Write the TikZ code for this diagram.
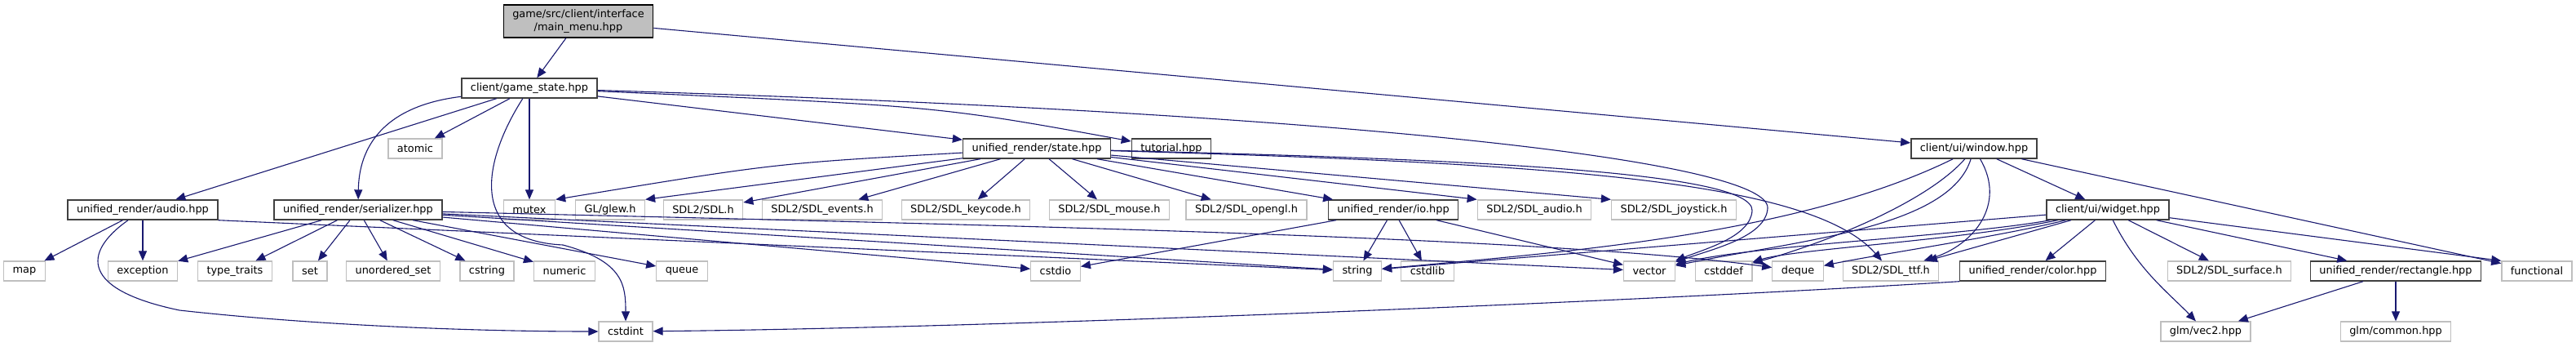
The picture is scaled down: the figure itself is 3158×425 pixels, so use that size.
\documentclass[tikz,border=0pt]{standalone}
\usepackage{fontspec}
\setmainfont{DejaVu Sans}
\usetikzlibrary{arrows.meta}
\definecolor{edgeblue}{HTML}{191970}
\definecolor{rootgrey}{HTML}{BFBFBF}
\definecolor{rimgrey}{HTML}{404040}
\definecolor{sysgrey}{HTML}{BFBFBF}

\begin{document}
\begin{tikzpicture}[x=1pt,y=-1pt,>={Triangle[length=12pt,width=10pt]},
  every node/.style={font=\fontsize{12.9}{15.3}\selectfont,inner xsep=11pt,inner ysep=0pt,minimum height=24pt},
  doc/.style={draw=rimgrey,line width=1.4pt,fill=white},
  sys/.style={draw=sysgrey,line width=1.3pt,fill=white},
  root/.style={draw=black,line width=1.4pt,fill=rootgrey,align=center,minimum height=40pt},
  dep/.style={->,draw=edgeblue,line width=1.1pt}]
\path[use as bounding box,fill=white] (0,0) rectangle (3158,425);

\node[root] (mainmenu) at (709,26) {game/src/client/interface\\/main\_menu.hpp};
\node[doc] (gamestate) at (649,108) {client/game\_state.hpp};

\node[sys] (atomic) at (509,182) {atomic};
\node[doc] (urstate) at (1271,182) {unified\_render/state.hpp};
\node[doc] (tutorial) at (1436,182) {tutorial.hpp};
\node[doc] (uiwindow) at (2420,182) {client/ui/window.hpp};

\node[doc] (uraudio) at (175,257) {unified\_render/audio.hpp};
\node[doc] (urserial) at (439,257) {unified\_render/serializer.hpp};
\node[sys] (mutex) at (649,257) {mutex};
\node[sys] (glew) at (748,257) {GL/glew.h};
\node[sys] (sdl) at (862,257) {SDL2/SDL.h};
\node[sys] (sdlevents) at (1008,257) {SDL2/SDL\_events.h};
\node[sys] (sdlkeycode) at (1184,257) {SDL2/SDL\_keycode.h};
\node[sys] (sdlmouse) at (1360,257) {SDL2/SDL\_mouse.h};
\node[sys] (sdlopengl) at (1528,257) {SDL2/SDL\_opengl.h};
\node[doc] (urio) at (1708,257) {unified\_render/io.hpp};
\node[sys] (sdlaudio) at (1881,257) {SDL2/SDL\_audio.h};
\node[sys] (sdljoy) at (2052,257) {SDL2/SDL\_joystick.h};
\node[doc] (uiwidget) at (2584,257) {client/ui/widget.hpp};

\node[sys] (map) at (30,332) {map};
\node[sys] (exception) at (175,332) {exception};
\node[sys] (typetraits) at (288,332) {type\_traits};
\node[sys] (set) at (380,332) {set};
\node[sys] (uset) at (482,332) {unordered\_set};
\node[sys] (cstring) at (597,332) {cstring};
\node[sys] (numeric) at (692,332) {numeric};
\node[sys] (queue) at (836,332) {queue};
\node[sys] (cstdio) at (1294,332) {cstdio};
\node[sys] (string) at (1664,332) {string};
\node[sys] (cstdlib) at (1750,332) {cstdlib};
\node[sys] (vector) at (2022,332) {vector};
\node[sys] (cstddef) at (2113,332) {cstddef};
\node[sys] (deque) at (2204,332) {deque};
\node[sys] (sdlttf) at (2318,332) {SDL2/SDL\_ttf.h};
\node[doc] (urcolor) at (2492,332) {unified\_render/color.hpp};
\node[sys] (sdlsurface) at (2733,332) {SDL2/SDL\_surface.h};
\node[doc] (urrect) at (2937,332) {unified\_render/rectangle.hpp};
\node[sys] (functional) at (3110,332) {functional};

\node[sys] (cstdint) at (767,406) {cstdint};
\node[sys] (glmvec) at (2704,406) {glm/vec2.hpp};
\node[sys] (glmcommon) at (2937,406) {glm/common.hpp};

\draw[dep] (mainmenu) -- (gamestate);
\draw[dep] (mainmenu) -- (uiwindow);

\draw[dep] (gamestate) -- (uraudio);
\draw[dep] (gamestate) .. controls (470,130) and (440,180) .. (urserial);
\draw[dep] (gamestate) -- (atomic);
\draw[dep] (gamestate) -- (mutex);
\draw[dep] (gamestate) .. controls (590,200) and (575,295) .. (690,300) .. controls (765,320) and (767,350) .. (cstdint);
\draw[dep] (gamestate) -- (urstate);
\draw[dep] (gamestate) .. controls (1150,130) .. (tutorial);
\draw[dep] (gamestate) .. controls (1700,140) and (2170,200) .. (2167,255) .. controls (2165,290) and (2100,305) .. (vector);

\draw[dep] (uraudio) -- (map);
\draw[dep] (uraudio) -- (exception);
\draw[dep] (uraudio.south east) -- (string);
\draw[dep] (uraudio) .. controls (100,310) and (100,355) .. (220,380) .. controls (400,400) and (600,406) .. (cstdint);

\draw[dep] (urserial) -- (exception);
\draw[dep] (urserial) -- (typetraits);
\draw[dep] (urserial) -- (set);
\draw[dep] (urserial) -- (uset);
\draw[dep] (urserial) -- (cstring);
\draw[dep] (urserial) -- (numeric);
\draw[dep] (urserial) -- (queue);
\draw[dep] (urserial) -- (cstdio);
\draw[dep] (urserial) -- (string);
\draw[dep] (urserial) -- (vector);
\draw[dep] (urserial) .. controls (1200,275) and (1900,290) .. (deque);

\draw[dep] (urstate) .. controls (950,200) .. (mutex.north east);
\draw[dep] (urstate) -- (glew.north east);
\draw[dep] (urstate) -- (sdl);
\draw[dep] (urstate) -- (sdlevents);
\draw[dep] (urstate) -- (sdlkeycode);
\draw[dep] (urstate) -- (sdlmouse);
\draw[dep] (urstate) -- (sdlopengl);
\draw[dep] (urstate) -- (urio);
\draw[dep] (urstate) -- (sdlaudio.north west);
\draw[dep] (urstate) -- (sdljoy.north west);
\draw[dep] (urstate) .. controls (1800,195) and (2150,210) .. (2148,258) .. controls (2146,290) and (2090,305) .. (vector);
\draw[dep] (urstate) .. controls (1900,200) and (2220,220) .. (sdlttf);

\draw[dep] (urio) -- (string);
\draw[dep] (urio) -- (cstdlib);
\draw[dep] (urio) -- (vector);
\draw[dep] (urio) -- (cstdio);

\draw[dep] (uiwindow) .. controls (2200,290) and (1900,310) .. (string);
\draw[dep] (uiwindow) .. controls (2390,280) and (2200,295) .. (vector);
\draw[dep] (uiwindow) .. controls (2360,250) and (2230,300) .. (cstddef);
\draw[dep] (uiwindow) .. controls (2460,250) and (2420,300) .. (sdlttf);
\draw[dep] (uiwindow) -- (uiwidget);
\draw[dep] (uiwindow) -- (functional);

\draw[dep] (uiwidget) -- (string);
\draw[dep] (uiwidget) .. controls (2400,290) and (2150,300) .. (vector);
\draw[dep] (uiwidget) .. controls (2400,295) and (2200,305) .. (cstddef);
\draw[dep] (uiwidget) .. controls (2450,290) and (2300,312) .. (deque);
\draw[dep] (uiwidget) -- (sdlttf);
\draw[dep] (uiwidget) -- (urcolor);
\draw[dep] (uiwidget) .. controls (2620,330) and (2660,360) .. (glmvec);
\draw[dep] (uiwidget) -- (sdlsurface);
\draw[dep] (uiwidget) -- (urrect);
\draw[dep] (uiwidget) -- (functional.north west);

\draw[dep] (urcolor.south west) .. controls (2000,370) and (1200,402) .. (cstdint);
\draw[dep] (urrect) -- (glmvec);
\draw[dep] (urrect) -- (glmcommon);
\end{tikzpicture}
\end{document}
